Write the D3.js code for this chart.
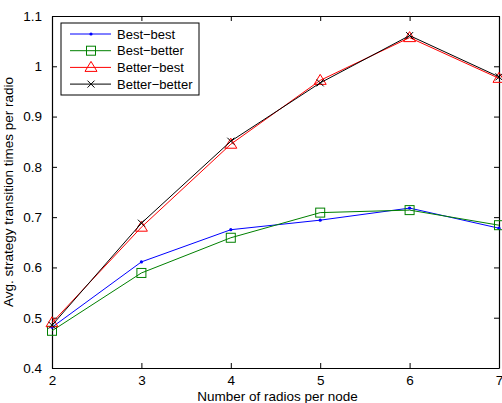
<!DOCTYPE html>
<html>
<head>
<meta charset="utf-8">
<script src="https://cdn.jsdelivr.net/npm/d3@7"></script>
<style>
  body { margin: 0; background: #fff; }
  svg text { font-family: "Liberation Sans", Arial, sans-serif; fill: #000; }
</style>
</head>
<body>
<div id="chart"></div>
<script>
// data
const radios = [2, 3, 4, 5, 6, 7];
const bestBest = [0.481, 0.611, 0.675, 0.694, 0.718, 0.678];
const bestBetter = [0.474, 0.589, 0.659, 0.709, 0.714, 0.684];
const betterBest = [0.490, 0.680, 0.845, 0.972, 1.057, 0.976];
const betterBetter = [0.485, 0.688, 0.851, 0.967, 1.061, 0.979];
const xTicks = [2, 3, 4, 5, 6, 7];
const yTicks = [0.4, 0.5, 0.6, 0.7, 0.8, 0.9, 1, 1.1];

const series = [
    {name: "Best\u2212best", values: bestBest, color: "#0000ff", marker: "dot"},
    {name: "Best\u2212better", values: bestBetter, color: "#008000", marker: "square"},
    {name: "Better\u2212best", values: betterBest, color: "#ff0000", marker: "triangle"},
    {name: "Better\u2212better", values: betterBetter, color: "#000000", marker: "x"}
];

const W = 502, H = 403;
const margin = {top: 16, right: 3, bottom: 35, left: 52};
const width = W - margin.left - margin.right;
const height = H - margin.top - margin.bottom;

const svg = d3.select("#chart").append("svg")
    .attr("width", W)
    .attr("height", H)
    .append("g")
    .attr("transform", `translate(${margin.left},${margin.top})`);

const x = d3.scaleLinear().domain([2, 7]).range([0, width]);
const y = d3.scaleLinear().domain([0.4, 1.1]).range([height, 0]);

// axes, ticks pointing inward on all four sides
svg.append("g")
    .attr("transform", `translate(0,${height})`)
    .call(d3.axisBottom(x).tickValues(xTicks).tickSizeInner(-5).tickSizeOuter(0).tickPadding(7).tickFormat(d3.format("d")))
    .call(g => g.selectAll("text").style("font-size", "13.5px"));
svg.append("g")
    .call(d3.axisTop(x).tickValues(xTicks).tickSizeInner(-5).tickSizeOuter(0).tickFormat(""));
svg.append("g")
    .call(d3.axisLeft(y).tickValues(yTicks).tickSizeInner(-5).tickSizeOuter(0).tickPadding(10).tickFormat(d => d3.format("")(+d.toFixed(1))))
    .call(g => g.selectAll("text").style("font-size", "13.5px"));
svg.append("g")
    .attr("transform", `translate(${width},0)`)
    .call(d3.axisRight(y).tickValues(yTicks).tickSizeInner(-5).tickSizeOuter(0).tickFormat(""));
svg.selectAll(".domain").attr("stroke", "#000").attr("stroke-width", 1.2);
svg.selectAll(".tick line").attr("stroke", "#000");

const line = d3.line()
    .x((d, i) => x(radios[i]))
    .y(d => y(d));

function drawMarker(g, type, color, cx, cy) {
    if (type === "dot") {
        g.append("circle").attr("cx", cx).attr("cy", cy).attr("r", 1.6).attr("fill", color);
    } else if (type === "square") {
        g.append("rect").attr("x", cx - 4.5).attr("y", cy - 4.5).attr("width", 9).attr("height", 9)
            .attr("fill", "none").attr("stroke", color).attr("stroke-width", 1);
    } else if (type === "triangle") {
        g.append("path").attr("d", `M${cx},${cy - 6}L${cx + 6},${cy + 4}L${cx - 6},${cy + 4}Z`)
            .attr("fill", "none").attr("stroke", color).attr("stroke-width", 1);
    } else if (type === "x") {
        g.append("path").attr("d", `M${cx - 3.5},${cy - 3.5}L${cx + 3.5},${cy + 3.5}M${cx - 3.5},${cy + 3.5}L${cx + 3.5},${cy - 3.5}`)
            .attr("stroke", color).attr("stroke-width", 1);
    }
}

series.forEach(s => {
    svg.append("path")
        .attr("d", line(s.values))
        .attr("fill", "none")
        .attr("stroke", s.color)
        .attr("stroke-width", 1);
    const mg = svg.append("g");
    s.values.forEach((v, i) => drawMarker(mg, s.marker, s.color, x(radios[i]), y(v)));
});

// labels
svg.append("text")
    .attr("x", width / 2 + 2)
    .attr("y", height + 32.5)
    .attr("text-anchor", "middle")
    .style("font-size", "13.5px")
    .text("Number of radios per node");
svg.append("text")
    .attr("transform", `translate(${-39},${height / 2})rotate(-90)`)
    .attr("text-anchor", "middle")
    .style("font-size", "13.5px")
    .text("Avg. strategy transition times per radio");

// legend
const legend = svg.append("g").attr("transform", "translate(9,7)");
legend.append("rect")
    .attr("width", 138).attr("height", 72)
    .attr("fill", "#fff").attr("stroke", "#000").attr("stroke-width", 1);
series.forEach((s, i) => {
    const ly = 11 + i * 16.7;
    legend.append("line")
        .attr("x1", 9).attr("x2", 50).attr("y1", ly).attr("y2", ly)
        .attr("stroke", s.color).attr("stroke-width", 1);
    drawMarker(legend, s.marker, s.color, 30, ly);
    legend.append("text")
        .attr("x", 56).attr("y", ly + 4.5)
        .style("font-size", "13px")
        .text(s.name);
});
</script>
</body>
</html>
